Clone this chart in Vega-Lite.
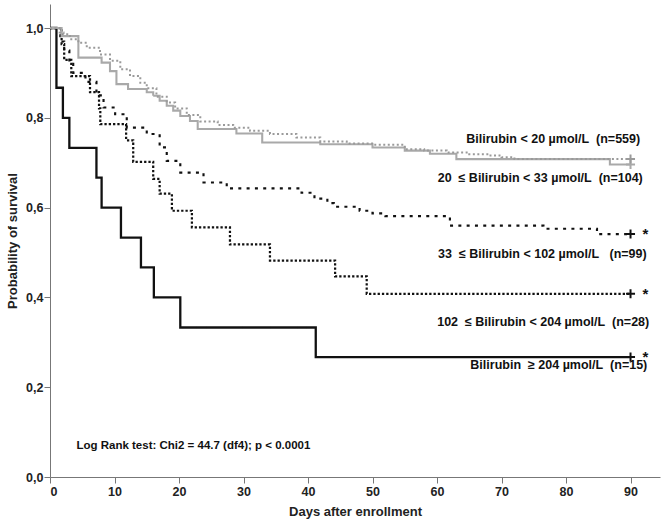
{
  "$schema": "https://vega.github.io/schema/vega-lite/v6.json",
  "width": 610,
  "height": 473,
  "autosize": {"type": "none"},
  "padding": {"left": 50, "top": 4, "right": 6, "bottom": 49},
  "background": "white",
  "config": {
    "view": {"stroke": null},
    "font": "Liberation Sans",
    "axis": {
      "grid": false,
      "domainColor": "#777777",
      "tickColor": "#777777",
      "tickSize": 6,
      "labelFont": "Liberation Sans",
      "labelFontWeight": "bold",
      "labelFontSize": 12.5,
      "labelColor": "#222222",
      "titleFont": "Liberation Sans",
      "titleFontWeight": "bold",
      "titleFontSize": 13,
      "titleColor": "#222222"
    }
  },
  "datasets": {
    "curves": [
      {"series": "S15", "day": 0, "surv": 1},
      {"series": "S15", "day": 1, "surv": 0.867},
      {"series": "S15", "day": 2, "surv": 0.8},
      {"series": "S15", "day": 3, "surv": 0.733},
      {"series": "S15", "day": 7.2, "surv": 0.667},
      {"series": "S15", "day": 8, "surv": 0.6},
      {"series": "S15", "day": 11, "surv": 0.533},
      {"series": "S15", "day": 14.1, "surv": 0.467},
      {"series": "S15", "day": 16.1, "surv": 0.4},
      {"series": "S15", "day": 20.2, "surv": 0.333},
      {"series": "S15", "day": 41.2, "surv": 0.267},
      {"series": "S15", "day": 90, "surv": 0.267},

      {"series": "S28", "day": 0, "surv": 1},
      {"series": "S28", "day": 1.8, "surv": 0.964},
      {"series": "S28", "day": 2.2, "surv": 0.929},
      {"series": "S28", "day": 3.3, "surv": 0.893},
      {"series": "S28", "day": 6.2, "surv": 0.857},
      {"series": "S28", "day": 7.6, "surv": 0.821},
      {"series": "S28", "day": 7.8, "surv": 0.786},
      {"series": "S28", "day": 11.8, "surv": 0.75},
      {"series": "S28", "day": 12.9, "surv": 0.702},
      {"series": "S28", "day": 16, "surv": 0.664},
      {"series": "S28", "day": 17, "surv": 0.631},
      {"series": "S28", "day": 18.9, "surv": 0.593},
      {"series": "S28", "day": 22, "surv": 0.556},
      {"series": "S28", "day": 27.9, "surv": 0.518},
      {"series": "S28", "day": 34.1, "surv": 0.482},
      {"series": "S28", "day": 44.2, "surv": 0.447},
      {"series": "S28", "day": 49.1, "surv": 0.408},
      {"series": "S28", "day": 90, "surv": 0.408},

      {"series": "S99", "day": 0, "surv": 1},
      {"series": "S99", "day": 1.6, "surv": 0.97},
      {"series": "S99", "day": 2.2, "surv": 0.95},
      {"series": "S99", "day": 3, "surv": 0.92},
      {"series": "S99", "day": 3.6, "surv": 0.9},
      {"series": "S99", "day": 5.5, "surv": 0.88},
      {"series": "S99", "day": 7.2, "surv": 0.85},
      {"series": "S99", "day": 8.3, "surv": 0.823},
      {"series": "S99", "day": 10.1, "surv": 0.808},
      {"series": "S99", "day": 11.9, "surv": 0.778},
      {"series": "S99", "day": 15, "surv": 0.764},
      {"series": "S99", "day": 17, "surv": 0.734},
      {"series": "S99", "day": 18.1, "surv": 0.704},
      {"series": "S99", "day": 20.2, "surv": 0.678},
      {"series": "S99", "day": 23.8, "surv": 0.656},
      {"series": "S99", "day": 27.4, "surv": 0.643},
      {"series": "S99", "day": 39, "surv": 0.633},
      {"series": "S99", "day": 41, "surv": 0.62},
      {"series": "S99", "day": 43, "surv": 0.61},
      {"series": "S99", "day": 44, "surv": 0.602},
      {"series": "S99", "day": 48, "surv": 0.593},
      {"series": "S99", "day": 50, "surv": 0.587},
      {"series": "S99", "day": 52, "surv": 0.581},
      {"series": "S99", "day": 62, "surv": 0.56},
      {"series": "S99", "day": 76.5, "surv": 0.553},
      {"series": "S99", "day": 84.8, "surv": 0.541},
      {"series": "S99", "day": 90, "surv": 0.541},

      {"series": "S104", "day": 0, "surv": 1},
      {"series": "S104", "day": 1.8, "surv": 0.982},
      {"series": "S104", "day": 4.4, "surv": 0.934},
      {"series": "S104", "day": 8, "surv": 0.923},
      {"series": "S104", "day": 9.3, "surv": 0.904},
      {"series": "S104", "day": 10.3, "surv": 0.875},
      {"series": "S104", "day": 12.1, "surv": 0.864},
      {"series": "S104", "day": 15, "surv": 0.857},
      {"series": "S104", "day": 16, "surv": 0.849},
      {"series": "S104", "day": 17, "surv": 0.838},
      {"series": "S104", "day": 18.1, "surv": 0.827},
      {"series": "S104", "day": 19.1, "surv": 0.816},
      {"series": "S104", "day": 20.2, "surv": 0.804},
      {"series": "S104", "day": 21.7, "surv": 0.793},
      {"series": "S104", "day": 22.9, "surv": 0.775},
      {"series": "S104", "day": 28.9, "surv": 0.765},
      {"series": "S104", "day": 32.9, "surv": 0.745},
      {"series": "S104", "day": 41.9, "surv": 0.741},
      {"series": "S104", "day": 50, "surv": 0.734},
      {"series": "S104", "day": 55, "surv": 0.727},
      {"series": "S104", "day": 58.9, "surv": 0.72},
      {"series": "S104", "day": 63, "surv": 0.708},
      {"series": "S104", "day": 86.8, "surv": 0.696},
      {"series": "S104", "day": 90, "surv": 0.696},

      {"series": "S559", "day": 0, "surv": 1},
      {"series": "S559", "day": 1.5, "surv": 0.99},
      {"series": "S559", "day": 2.1, "surv": 0.986},
      {"series": "S559", "day": 3.1, "surv": 0.975},
      {"series": "S559", "day": 4.4, "surv": 0.967},
      {"series": "S559", "day": 5.7, "surv": 0.956},
      {"series": "S559", "day": 7.75, "surv": 0.941},
      {"series": "S559", "day": 9.3, "surv": 0.927},
      {"series": "S559", "day": 10.9, "surv": 0.908},
      {"series": "S559", "day": 12.4, "surv": 0.893},
      {"series": "S559", "day": 14, "surv": 0.878},
      {"series": "S559", "day": 15, "surv": 0.866},
      {"series": "S559", "day": 16.5, "surv": 0.847},
      {"series": "S559", "day": 18.1, "surv": 0.834},
      {"series": "S559", "day": 19.4, "surv": 0.821},
      {"series": "S559", "day": 21.2, "surv": 0.806},
      {"series": "S559", "day": 23.3, "surv": 0.792},
      {"series": "S559", "day": 26, "surv": 0.784},
      {"series": "S559", "day": 28.4, "surv": 0.778},
      {"series": "S559", "day": 31, "surv": 0.771},
      {"series": "S559", "day": 34.1, "surv": 0.764},
      {"series": "S559", "day": 38.2, "surv": 0.756},
      {"series": "S559", "day": 41.9, "surv": 0.747},
      {"series": "S559", "day": 46, "surv": 0.743},
      {"series": "S559", "day": 50.1, "surv": 0.74},
      {"series": "S559", "day": 55, "surv": 0.73},
      {"series": "S559", "day": 58, "surv": 0.727},
      {"series": "S559", "day": 61.5, "surv": 0.723},
      {"series": "S559", "day": 65, "surv": 0.719},
      {"series": "S559", "day": 68, "surv": 0.716},
      {"series": "S559", "day": 70, "surv": 0.712},
      {"series": "S559", "day": 72, "surv": 0.708},
      {"series": "S559", "day": 90, "surv": 0.708}
    ],
    "censor": [
      {"series": "S15", "day": 90, "surv": 0.267},
      {"series": "S28", "day": 90, "surv": 0.408},
      {"series": "S99", "day": 90, "surv": 0.541},
      {"series": "S104", "day": 90, "surv": 0.696},
      {"series": "S559", "day": 90, "surv": 0.708}
    ],
    "stars": [
      {"day": 92.3, "surv": 0.267},
      {"day": 92.3, "surv": 0.408},
      {"day": 92.3, "surv": 0.541}
    ],
    "labels": [
      {"label": "Bilirubin < 20 µmol/L\u00a0 (n=559)", "day": 91.5, "surv": 0.753},
      {"label": "20\u00a0 ≤ Bilirubin < 33 µmol/L\u00a0 (n=104)", "day": 91.9, "surv": 0.665},
      {"label": "33\u00a0 ≤ Bilirubin < 102 µmol/L\u00a0\u00a0 (n=99)", "day": 92.5, "surv": 0.497},
      {"label": "102\u00a0 ≤ Bilirubin < 204 µmol/L\u00a0 (n=28)", "day": 92.9, "surv": 0.345},
      {"label": "Bilirubin\u00a0 ≥ 204 µmol/L\u00a0 (n=15)", "day": 92.6, "surv": 0.249}
    ],
    "note": [
      {"label": "Log Rank test: Chi2 = 44.7 (df4); p < 0.0001", "day": 4.1, "surv": 0.069}
    ]
  },
  "layer": [
    {
      "data": {"name": "curves"},
      "mark": {"type": "line", "interpolate": "step-after", "strokeCap": "butt"},
      "encoding": {
        "x": {
          "field": "day", "type": "quantitative",
          "scale": {"domain": [0, 94.57], "nice": false, "zero": false},
          "axis": {"values": [0, 10, 20, 30, 40, 50, 60, 70, 80, 90], "title": "Days after enrollment", "titlePadding": 8, "labelPadding": 2}
        },
        "y": {
          "field": "surv", "type": "quantitative",
          "scale": {"domain": [0, 1.0535], "nice": false},
          "axis": {"values": [0, 0.2, 0.4, 0.6, 0.8, 1.0], "title": "Probability of survival", "labelExpr": "replace(format(datum.value, '.1f'), '.', ',')", "titlePadding": 6, "labelPadding": 1}
        },
        "color": {
          "field": "series", "type": "nominal", "legend": null,
          "scale": {"domain": ["S559", "S104", "S99", "S28", "S15"], "range": ["#9a9a9a", "#a9a9a9", "#111111", "#111111", "#111111"]}
        },
        "strokeDash": {
          "field": "series", "type": "nominal", "legend": null,
          "scale": {"domain": ["S559", "S104", "S99", "S28", "S15"], "range": [[2, 2.5], [1, 0], [3, 5.3], [2.3, 2], [1, 0]]}
        },
        "strokeWidth": {
          "field": "series", "type": "nominal", "legend": null,
          "scale": {"domain": ["S559", "S104", "S99", "S28", "S15"], "range": [2, 2.3, 3, 2.5, 2.5]}
        }
      }
    },
    {
      "data": {"name": "censor"},
      "mark": {"type": "point", "shape": "M-1,0L1,0M0,-1L0,1", "filled": false, "strokeWidth": 2, "size": 81, "opacity": 1},
      "encoding": {
        "x": {"field": "day", "type": "quantitative"},
        "y": {"field": "surv", "type": "quantitative"},
        "color": {"field": "series", "type": "nominal", "legend": null}
      }
    },
    {
      "data": {"name": "stars"},
      "mark": {"type": "text", "text": "*", "fontSize": 15, "fontWeight": "bold", "baseline": "middle", "align": "center", "color": "#111111"},
      "encoding": {
        "x": {"field": "day", "type": "quantitative"},
        "y": {"field": "surv", "type": "quantitative"}
      }
    },
    {
      "data": {"name": "labels"},
      "mark": {"type": "text", "fontSize": 12.5, "fontWeight": "bold", "baseline": "middle", "align": "right", "color": "#111111"},
      "encoding": {
        "x": {"field": "day", "type": "quantitative"},
        "y": {"field": "surv", "type": "quantitative"},
        "text": {"field": "label"}
      }
    },
    {
      "data": {"name": "note"},
      "mark": {"type": "text", "fontSize": 11.5, "fontWeight": "bold", "baseline": "middle", "align": "left", "color": "#111111"},
      "encoding": {
        "x": {"field": "day", "type": "quantitative"},
        "y": {"field": "surv", "type": "quantitative"},
        "text": {"field": "label"}
      }
    }
  ]
}
